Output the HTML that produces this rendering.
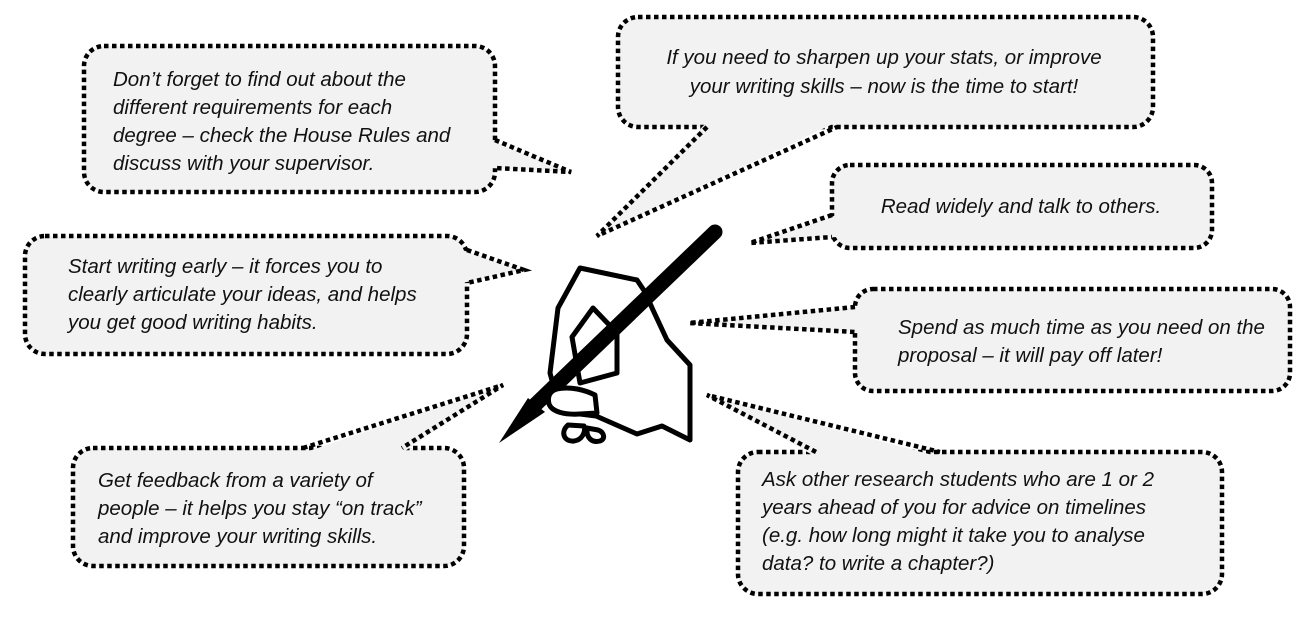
<!DOCTYPE html>
<html><head><meta charset="utf-8">
<style>
html,body{margin:0;padding:0;background:#fff;}
svg{display:block;}
text{font-family:"Liberation Sans",sans-serif;font-style:italic;font-size:20.5px;fill:#111;}
.b{fill:#f2f2f2;stroke:#000;stroke-width:4.5;stroke-dasharray:4.5 3.5;}
.t{fill:#f2f2f2;stroke:none;}
.l{fill:none;stroke:#000;stroke-width:4.5;stroke-dasharray:4.5 3.5;}
</style></head>
<body>
<svg width="1305" height="618" viewBox="0 0 1305 618" xmlns="http://www.w3.org/2000/svg">
<!-- Box 1 -->
<rect class="b" x="84" y="46" width="411" height="146" rx="20"/>
<polygon class="t" points="490,140 571,172 490,168"/>
<polyline class="l" points="495,140 571,172 495,168"/>
<text x="113" y="86">Don’t forget to find out about the</text>
<text x="113" y="114">different requirements for each</text>
<text x="113" y="142">degree – check the House Rules and</text>
<text x="113" y="170">discuss with your supervisor.</text>

<!-- Box 2 -->
<rect class="b" x="618" y="17" width="535" height="110" rx="20"/>
<polygon class="t" points="707,122 597,236 837,122"/>
<polyline class="l" points="707,127 597,236 837,127"/>
<text x="884" y="64" text-anchor="middle">If you need to sharpen up your stats, or improve</text>
<text x="884" y="93" text-anchor="middle">your writing skills – now is the time to start!</text>

<!-- Box 3 -->
<rect class="b" x="832" y="165" width="380" height="83" rx="18"/>
<polygon class="t" points="837,215 750,243 837,237"/>
<polyline class="l" points="832,215 750,243 832,237"/>
<text x="1021" y="213" text-anchor="middle">Read widely and talk to others.</text>

<!-- Box 4 -->
<rect class="b" x="25" y="236" width="442" height="118" rx="20"/>
<polygon class="t" points="462,250 524,270 462,283"/>
<polyline class="l" points="467,250 524,270 467,283"/>
<text x="68" y="273">Start writing early – it forces you to</text>
<text x="68" y="301">clearly articulate your ideas, and helps</text>
<text x="68" y="329">you get good writing habits.</text>

<!-- Box 5 -->
<rect class="b" x="855" y="289" width="435" height="102" rx="18"/>
<polygon class="t" points="860,307 689,323 860,332"/>
<polyline class="l" points="855,307 689,323 855,332"/>
<text x="898" y="334">Spend as much time as you need on the</text>
<text x="898" y="362">proposal – it will pay off later!</text>

<!-- Box 6 -->
<rect class="b" x="73" y="448" width="391" height="118" rx="20"/>
<polygon class="t" points="303,453 503,385 402,453"/>
<polyline class="l" points="303,448 503,385 402,448"/>
<text x="98" y="487">Get feedback from a variety of</text>
<text x="98" y="515">people – it helps you stay “on track”</text>
<text x="98" y="543">and improve your writing skills.</text>

<!-- Box 7 -->
<rect class="b" x="738" y="452" width="484" height="142" rx="20"/>
<polygon class="t" points="816,457 707,395 940,457"/>
<polyline class="l" points="816,452 707,395 940,452"/>
<text x="762" y="486">Ask other research students who are 1 or 2</text>
<text x="762" y="514">years ahead of you for advice on timelines</text>
<text x="762" y="542">(e.g.  how long might it take you to analyse</text>
<text x="762" y="570">data? to write a chapter?)</text>

<!-- Hand -->
<g stroke="#000" stroke-width="5" stroke-linejoin="round" fill="#fff">
  <path d="M568,425 C560,432 564,442 574,441 C582,440 586,432 584,426 Z"/>
  <path d="M587,428 C586,438 592,443 600,441 C606,439 604,432 598,430 Z"/>
  <path d="M580,268 L637,280 L645,292 L653,310 L667,340 L690,365 L690,440 L662,426 L637,434 L596,416 L580,414 L560,410 L550,373 L558,308 Z"/>
  <path d="M593,308 L617,333 L617,373 L580,383 L572,337 Z"/>
</g>
<!-- Pen -->
<line x1="535" y1="405" x2="715" y2="232" stroke="#000" stroke-width="15" stroke-linecap="round"/>
<polygon points="499,443 528,398 545,412" fill="#000"/>
<!-- Thumb over pen -->
<path d="M557,389 C570,386 585,390 595,395 L597,413 L580,414 C565,415 552,412 549,404 C547,396 550,391 557,389 Z" fill="#fff" stroke="#000" stroke-width="5" stroke-linejoin="round"/>
</svg>
</body></html>
